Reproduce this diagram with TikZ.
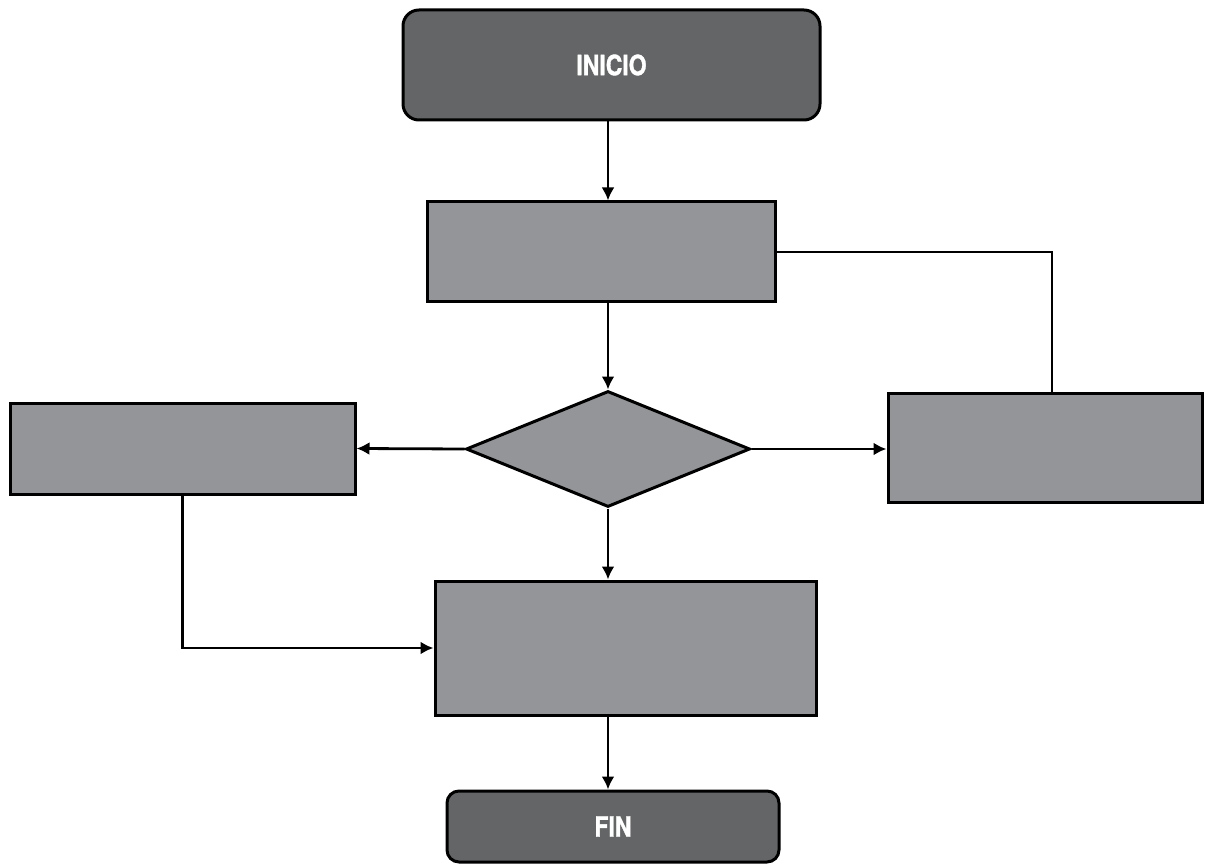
\documentclass[tikz,border=0pt]{standalone}
\usepackage{fontspec}
\newfontfamily\condfont[FakeStretch=0.82, FakeBold=1.2]{TeX Gyre Heros}
\usetikzlibrary{shapes.geometric, arrows.meta, positioning}
\definecolor{darkbox}{HTML}{646567}
\definecolor{lightbox}{HTML}{939598}
\tikzset{
    terminal/.style={draw, line width=3pt, fill=darkbox, rounded corners=16pt, inner sep=0pt,
        text=white, font=\condfont\bfseries\fontsize{28}{32}\selectfont},
    procbox/.style={draw, line width=3pt, fill=lightbox, inner sep=0pt},
    decision/.style={draw, line width=3pt, fill=lightbox, diamond, inner sep=0pt},
    link/.style={line width=2.8pt}
}
\begin{document}
\begin{tikzpicture}[x=1pt, y=-1pt, >={Latex[length=13pt,width=13pt]}]
    \useasboundingbox (0,0) rectangle (1207,866);

    \node[terminal, minimum width=417pt, minimum height=110pt] (inicio) at (611.5, 65) {INICIO};
    \node[procbox, minimum width=348pt, minimum height=100pt] (paso) at (601, 252) {};
    \node[decision, minimum width=284pt, minimum height=116pt] (cond) at (608, 449) {};
    \node[procbox, minimum width=345pt, minimum height=91pt] (izq) at (182.5, 448.5) {};
    \node[procbox, minimum width=314pt, minimum height=109pt] (der) at (1045, 447.5) {};
    \node[procbox, minimum width=381pt, minimum height=134pt] (union) at (625.5, 648) {};
    \node[terminal, rounded corners=12pt, minimum width=332pt, minimum height=71pt] (fin) at (613, 826.5) {FIN};
    \coordinate (subida) at (1052, 393);

    \draw[link, ->] (inicio.south -| cond) -- (paso.north -| cond);
    \draw[link, ->] (paso.south -| cond) -- (cond.north);
    \draw[link, ->] (cond.west) -- (izq.east);
    \draw[link, ->] (cond.east) -- (cond.east -| der.west);
    \draw[link, ->] (cond.south) -- (union.north -| cond);
    \draw[link, ->] (union.south -| cond) -- (fin.north -| cond);

    % lazo de vuelta y union
    \draw[link] (paso.east) -| (subida);
    \draw[link, ->] (izq.south) |- (union.west);
\end{tikzpicture}
\end{document}
